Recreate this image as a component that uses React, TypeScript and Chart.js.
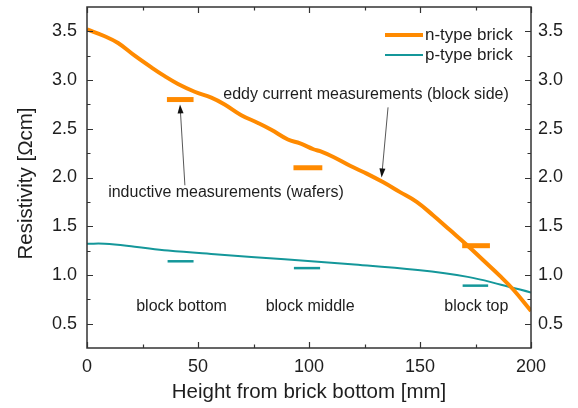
import React, { useEffect, useRef } from 'react';
import { Chart, registerables } from 'chart.js';

Chart.register(...registerables);

const FONT = '"Liberation Sans", Arial, sans-serif';
const ORANGE = '#FF8A00';
const TEAL = '#14979A';
const INK = '#1e1e1e';

// n-type brick (eddy current, block side)
const nTypeX = [0, 8, 14, 21.5, 29, 35, 41, 48.5, 56, 62, 69.5, 77, 83, 90.5, 96, 102, 105, 111, 118.5, 126, 133.5, 141, 148.5, 156, 163.5, 171, 178.5, 186, 192, 200];
const nTypeY = [3.52, 3.45, 3.38, 3.25, 3.13, 3.04, 2.96, 2.88, 2.82, 2.75, 2.64, 2.56, 2.49, 2.39, 2.35, 2.29, 2.27, 2.21, 2.12, 2.04, 1.95, 1.85, 1.75, 1.61, 1.46, 1.31, 1.15, 0.99, 0.85, 0.63];

// p-type brick
const pTypeX = [0, 8, 21.5, 36.5, 59, 89, 119, 149, 171.5, 186.5, 200];
const pTypeY = [1.32, 1.32, 1.29, 1.25, 1.21, 1.16, 1.11, 1.05, 0.98, 0.9, 0.82];

// inductive measurements on wafers (short bars)
const nBarStart = [36, 93, 169];
const nBarEnd = [48, 106, 181.5];
const nBarValue = [2.8, 2.1, 1.3];
const pBarStart = [36.3, 93.2, 169.2];
const pBarEnd = [48, 105, 180.7];
const pBarValue = [1.14, 1.07, 0.89];

// axes
const xMajorTicks = [0, 50, 100, 150, 200];
const xMinorTicks = [25, 75, 125, 175];
const yMajorTicks = [0.5, 1.0, 1.5, 2.0, 2.5, 3.0, 3.5];
const yMinorTicks = [0.75, 1.25, 1.75, 2.25, 2.75, 3.25];
const xTitle = 'Height from brick bottom [mm]';
const yTitle = 'Resistivity [Ωcm]';

// annotations (data coordinates)
const blockLabels = ['block bottom', 'block middle', 'block top'];
const blockLabelX = [42.6, 100.5, 175.4];
const blockLabelY = [0.68, 0.68, 0.68];
const noteTexts = ['eddy current measurements (block side)', 'inductive measurements (wafers)'];
const noteX = [125.7, 62.6];
const noteY = [2.854, 1.84];
const arrowFromX = [135.6, 44.1];
const arrowFromY = [2.72, 1.92];
const arrowToX = [132.7, 41.9];
const arrowToY = [2.0, 2.75];

const legendLabels = ['n-type brick', 'p-type brick'];

const toPoints = (xs: number[], ys: number[]) => xs.map((x, i) => ({ x, y: ys[i] }));

const decorPlugin = {
  id: 'decor',
  afterDatasetsDraw(chart: any) {
    const { ctx, chartArea: a, scales } = chart;
    const sx = scales.x;
    const sy = scales.y;
    ctx.save();

    // frame
    ctx.strokeStyle = '#333';
    ctx.lineWidth = 1.5;
    ctx.strokeRect(a.left, a.top, a.right - a.left, a.bottom - a.top);

    // inward ticks
    ctx.lineWidth = 1.2;
    const drawX = (vals: number[], len: number) => {
      vals.forEach((v) => {
        const p = Math.round(sx.getPixelForValue(v)) + 0.5;
        ctx.beginPath();
        ctx.moveTo(p, a.bottom);
        ctx.lineTo(p, a.bottom - len);
        ctx.moveTo(p, a.top);
        ctx.lineTo(p, a.top + len);
        ctx.stroke();
      });
    };
    const drawY = (vals: number[], len: number) => {
      vals.forEach((v) => {
        const p = Math.round(sy.getPixelForValue(v)) + 0.5;
        ctx.beginPath();
        ctx.moveTo(a.left, p);
        ctx.lineTo(a.left + len, p);
        ctx.moveTo(a.right, p);
        ctx.lineTo(a.right - len, p);
        ctx.stroke();
      });
    };
    drawX(xMajorTicks, 6);
    drawX(xMinorTicks, 3.5);
    drawY(yMajorTicks, 6);
    drawY(yMinorTicks, 3.5);

    // y axis title
    ctx.save();
    ctx.fillStyle = INK;
    ctx.font = `20.5px ${FONT}`;
    ctx.textAlign = 'center';
    ctx.textBaseline = 'middle';
    ctx.translate(26, (a.top + a.bottom) / 2 + 6);
    ctx.rotate(-Math.PI / 2);
    ctx.fillText(yTitle, 0, 0);
    ctx.restore();

    // text annotations
    ctx.fillStyle = INK;
    ctx.font = `16px ${FONT}`;
    ctx.textAlign = 'center';
    ctx.textBaseline = 'middle';
    blockLabels.forEach((t, i) => {
      ctx.fillText(t, sx.getPixelForValue(blockLabelX[i]), sy.getPixelForValue(blockLabelY[i]));
    });
    noteTexts.forEach((t, i) => {
      ctx.fillText(t, sx.getPixelForValue(noteX[i]), sy.getPixelForValue(noteY[i]));
    });

    // arrows
    arrowFromX.forEach((_, i) => {
      const x0 = sx.getPixelForValue(arrowFromX[i]);
      const y0 = sy.getPixelForValue(arrowFromY[i]);
      const x1 = sx.getPixelForValue(arrowToX[i]);
      const y1 = sy.getPixelForValue(arrowToY[i]);
      const ang = Math.atan2(y1 - y0, x1 - x0);
      const hl = 9;
      const hw = 3;
      ctx.strokeStyle = '#444';
      ctx.lineWidth = 0.9;
      ctx.beginPath();
      ctx.moveTo(x0, y0);
      ctx.lineTo(x1 - Math.cos(ang) * hl * 0.8, y1 - Math.sin(ang) * hl * 0.8);
      ctx.stroke();
      ctx.fillStyle = '#111';
      ctx.beginPath();
      ctx.moveTo(x1, y1);
      ctx.lineTo(x1 - Math.cos(ang) * hl - Math.sin(ang) * hw, y1 - Math.sin(ang) * hl + Math.cos(ang) * hw);
      ctx.lineTo(x1 - Math.cos(ang) * hl + Math.sin(ang) * hw, y1 - Math.sin(ang) * hl - Math.cos(ang) * hw);
      ctx.closePath();
      ctx.fill();
    });

    // legend
    const legendColors = [ORANGE, TEAL];
    const legendWidths = [4, 2];
    ctx.font = `17px ${FONT}`;
    ctx.textAlign = 'left';
    ctx.textBaseline = 'middle';
    legendLabels.forEach((t, i) => {
      const yy = a.top + 28 + i * 20;
      const lx0 = a.right - 146;
      const lx1 = a.right - 108;
      ctx.strokeStyle = legendColors[i];
      ctx.lineWidth = legendWidths[i];
      ctx.beginPath();
      ctx.moveTo(lx0, yy);
      ctx.lineTo(lx1, yy);
      ctx.stroke();
      ctx.fillStyle = INK;
      ctx.fillText(t, lx1 + 2, yy);
    });

    ctx.restore();
  },
};

export default function App() {
  const ref = useRef<HTMLCanvasElement | null>(null);

  useEffect(() => {
    if (!ref.current) return;
    const nBars = nBarStart.map((s, i) => ({
      label: 'n-bar',
      data: [{ x: s, y: nBarValue[i] }, { x: nBarEnd[i], y: nBarValue[i] }],
      borderColor: ORANGE,
      borderWidth: 5,
      pointRadius: 0,
      borderCapStyle: 'butt',
      fill: false,
    }));
    const pBars = pBarStart.map((s, i) => ({
      label: 'p-bar',
      data: [{ x: s, y: pBarValue[i] }, { x: pBarEnd[i], y: pBarValue[i] }],
      borderColor: TEAL,
      borderWidth: 2.5,
      pointRadius: 0,
      borderCapStyle: 'butt',
      fill: false,
    }));

    const tickFont = { family: FONT, size: 18, lineHeight: 1.2 };
    const titleFont = { family: FONT, size: 20.5, lineHeight: 1.2 };

    const chart = new Chart(ref.current, {
      type: 'line',
      data: {
        datasets: [
          ...nBars,
          {
            label: legendLabels[0],
            data: toPoints(nTypeX, nTypeY),
            borderColor: ORANGE,
            borderWidth: 4,
            pointRadius: 0,
            tension: 0.4,
            borderJoinStyle: 'round',
            fill: false,
          },
          {
            label: legendLabels[1],
            data: toPoints(pTypeX, pTypeY),
            borderColor: TEAL,
            borderWidth: 2,
            pointRadius: 0,
            tension: 0.4,
            fill: false,
          },
          ...pBars,
        ],
      },
      options: {
        responsive: false,
        animation: false,
        devicePixelRatio: 1,
        layout: { padding: 0 },
        plugins: { legend: { display: false }, tooltip: { enabled: false } },
        scales: {
          x: {
            type: 'linear',
            position: 'bottom',
            min: 0,
            max: 200,
            grid: { display: false, drawTicks: false },
            border: { display: false },
            afterBuildTicks: (s: any) => {
              s.ticks = xMajorTicks.map((v) => ({ value: v }));
            },
            afterFit: (s: any) => {
              s.height = 60;
              s.paddingLeft = 0;
              s.paddingRight = 0;
            },
            ticks: { font: tickFont, color: INK, padding: 8, autoSkip: false, maxRotation: 0 },
            title: {
              display: true,
              text: xTitle,
              font: titleFont,
              color: INK,
              padding: { top: 0, bottom: 3 },
            },
          },
          x2: {
            type: 'linear',
            position: 'top',
            min: 0,
            max: 200,
            grid: { display: false, drawTicks: false },
            border: { display: false },
            ticks: { display: false },
            afterFit: (s: any) => {
              s.height = 7;
              s.paddingLeft = 0;
              s.paddingRight = 0;
            },
          },
          y: {
            type: 'linear',
            position: 'left',
            min: 0.25,
            max: 3.75,
            grid: { display: false, drawTicks: false },
            border: { display: false },
            afterBuildTicks: (s: any) => {
              s.ticks = yMajorTicks.map((v) => ({ value: v }));
            },
            afterFit: (s: any) => {
              s.width = 87;
              s.paddingTop = 0;
              s.paddingBottom = 0;
            },
            ticks: {
              font: tickFont,
              color: INK,
              padding: 10,
              autoSkip: false,
              callback: (v: any) => Number(v).toFixed(1),
            },
          },
          y2: {
            type: 'linear',
            position: 'right',
            min: 0.25,
            max: 3.75,
            grid: { display: false, drawTicks: false },
            border: { display: false },
            afterBuildTicks: (s: any) => {
              s.ticks = yMajorTicks.map((v) => ({ value: v }));
            },
            afterFit: (s: any) => {
              s.width = 47;
              s.paddingTop = 0;
              s.paddingBottom = 0;
            },
            ticks: {
              font: tickFont,
              color: INK,
              padding: 7,
              autoSkip: false,
              callback: (v: any) => Number(v).toFixed(1),
            },
          },
        },
      } as any,
      plugins: [decorPlugin],
    });
    return () => chart.destroy();
  }, []);

  return (
    <div style={{ position: 'absolute', left: 0, top: 0, width: 578, height: 408, background: '#fff' }}>
      <canvas ref={ref} width={578} height={408} style={{ display: 'block' }} />
    </div>
  );
}
